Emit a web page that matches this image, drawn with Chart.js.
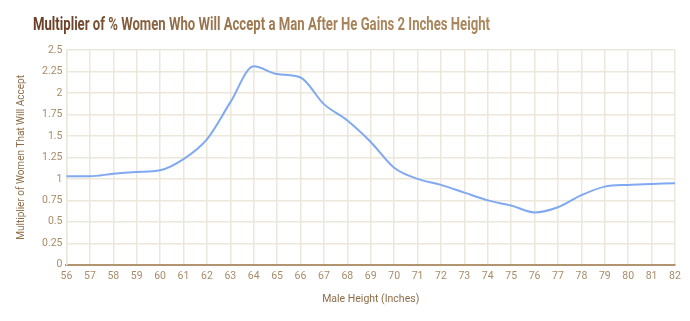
<!DOCTYPE html>
<html>
<head>
<meta charset="utf-8">
<script src="https://cdn.jsdelivr.net/npm/chart.js@4.4.1/dist/chart.umd.min.js"></script>
<style>
  html, body { margin: 0; padding: 0; background: #fff; }
  #wrap { width: 690px; height: 321px; position: relative; }
</style>
</head>
<body>
<div id="wrap"><canvas id="chart" width="690" height="321"></canvas></div>
<script>
// datos
const heights = [56,57,58,59,60,61,62,63,64,65,66,67,68,69,70,71,72,73,74,75,76,77,78,79,80,81,82];
const multiplier = [1.03,1.03,1.06,1.08,1.10,1.23,1.46,1.89,2.31,2.22,2.18,1.87,1.68,1.43,1.13,1.00,0.93,0.84,0.75,0.69,0.61,0.67,0.81,0.91,0.93,0.94,0.95];
const yTicks = [0,0.25,0.5,0.75,1,1.25,1.5,1.75,2,2.25,2.5];

const titleText = 'Multiplier of % Women Who Will Accept a Man After He Gains 2 Inches Height';
const gridColor = '#ebe7da';
const tickColor = '#a88c68';
const labelFont = { family: 'Roboto', size: 10.5 };

// titulo condensado con degradado
const titlePlugin = {
  id: 'condensedTitle',
  afterDraw(chart) {
    const ctx = chart.ctx;
    ctx.save();
    ctx.font = 'bold 19px Roboto';
    const w = ctx.measureText(titleText).width;
    const target = 457;
    const grad = ctx.createLinearGradient(33, 0, 490, 0);
    grad.addColorStop(0, '#6a4026');
    grad.addColorStop(0.4, '#95704a');
    grad.addColorStop(1, '#aa865c');
    ctx.fillStyle = grad;
    ctx.textBaseline = 'alphabetic';
    ctx.translate(33, 30);
    ctx.scale(target / w, 1);
    ctx.fillText(titleText, 0, 0);
    ctx.restore();
  }
};

const ctx = document.getElementById('chart').getContext('2d');
new Chart(ctx, {
  type: 'line',
  data: {
    labels: heights,
    datasets: [{
      label: 'Multiplier',
      data: multiplier,
      borderColor: '#80a9f2',
      borderWidth: 2,
      pointRadius: 0,
      cubicInterpolationMode: 'monotone',
      fill: false
    }]
  },
  options: {
    responsive: false,
    animation: false,
    layout: { padding: { top: 50, right: 15, left: 15, bottom: 11 } },
    plugins: {
      legend: { display: false },
      tooltip: { enabled: false }
    },
    scales: {
      x: {
        type: 'category',
        offset: false,
        grid: { color: gridColor, lineWidth: 1.5, drawTicks: false },
        border: { color: '#b39470', width: 2 },
        ticks: {
          color: tickColor,
          font: labelFont,
          padding: 5,
          maxRotation: 0,
          autoSkip: false
        },
        title: {
          display: true,
          text: 'Male Height (Inches)',
          color: '#8e6c48',
          font: labelFont,
          padding: { top: 6 }
        }
      },
      y: {
        min: 0,
        max: 2.5,
        afterBuildTicks: axis => { axis.ticks = yTicks.map(v => ({ value: v })); },
        grid: { color: gridColor, lineWidth: 1.5, drawTicks: false },
        border: { color: gridColor, width: 1.5 },
        ticks: {
          color: tickColor,
          font: labelFont,
          padding: 4,
          callback: v => String(v)
        },
        title: {
          display: true,
          text: 'Multiplier of Women That Will Accept',
          color: '#8e6c48',
          font: { family: 'Roboto', size: 10 },
          padding: { top: 0, bottom: 11 }
        }
      }
    }
  },
  plugins: [titlePlugin]
});
</script>
</body>
</html>
